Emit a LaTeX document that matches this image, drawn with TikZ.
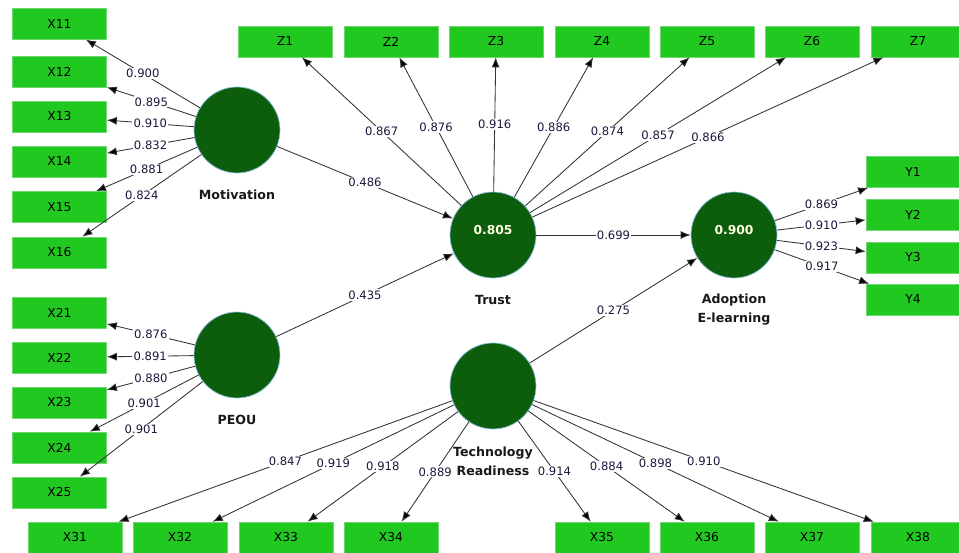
\documentclass[tikz,border=0pt]{standalone}
\usepackage{fontspec}
\setmainfont{DejaVu Sans}
\usetikzlibrary{arrows.meta}

\definecolor{itemgreen}{RGB}{32,200,32}
\definecolor{itemedge}{RGB}{110,215,110}
\definecolor{lvgreen}{RGB}{12,94,12}
\definecolor{lvedge}{RGB}{140,190,225}
\definecolor{linkgray}{RGB}{50,50,50}
\definecolor{numink}{RGB}{30,25,60}

\tikzset{
  item/.style = {rectangle, fill=itemgreen, draw=itemedge, line width=0.6pt,
    minimum width=94pt, minimum height=31pt, inner sep=0pt,
    font=\fontsize{12.3}{14}\selectfont},
  latent/.style = {circle, fill=lvgreen, draw=lvedge, line width=0.7pt,
    minimum size=86pt, inner sep=0pt},
  lvvalue/.style = {inner sep=0pt, text=white!88!yellow, yshift=5pt,
    font=\bfseries\fontsize{12.3}{14}\selectfont},
  lvname/.style = {align=center, inner sep=0pt, text=black!90,
    font=\bfseries\fontsize{12.6}{19}\selectfont},
  loading/.style = {fill=white, inner sep=1.2pt, text=numink,
    font=\fontsize{11.6}{13}\selectfont},
  link/.style = {->, draw=linkgray, line width=0.85pt}
}

\begin{document}
\begin{tikzpicture}[x=1pt, y=-1pt, >={Latex[length=10pt, width=8pt, fill=black]}]
	 \useasboundingbox (0, 0) rectangle (959, 552);
	 
	 % latent variables
	 \node[latent] (mot) at (237, 130) {};
	 \node[latent] (peou) at (237, 355) {};
	 \node[latent, label={[lvvalue]center:0.805}] (trust) at (493, 235) {};
	 \node[latent, label={[lvvalue]center:0.900}] (adopt) at (734, 235) {};
	 \node[latent] (tech) at (493, 386) {};
	 
	 \node[lvname] (motname) at (237, 195) {Motivation};
	 \node[lvname] (peouname) at (237, 420) {PEOU};
	 \node[lvname] (trustname) at (493, 300) {Trust};
	 \node[lvname] (adoptname) at (734, 310) {Adoption\\E-learning};
	 \node[lvname] (techname) at (493, 461) {Technology\\Readiness};
	 
	 % indicators
	 \foreach \n/\y in {11/23.8, 12/71.7, 13/116.5, 14/161.5, 15/207, 16/252.5}
	 \node[item] (x\n) at (59.5, \y) {X\n};
	 \foreach \n/\y in {21/312.5, 22/357.5, 23/402.5, 24/447.5, 25/492.5}
	 \node[item] (x\n) at (59.5, \y) {X\n};
	 \foreach \n/\x in {1/285, 2/391, 3/496, 4/602, 5/707, 6/812, 7/918}
	 \node[item] (z\n) at (\x, 41.5) {Z\n};
	 \foreach \n/\y in {1/172, 2/214.5, 3/257.5, 4/299.5}
	 \node[item] (y\n) at (913, \y) {Y\n};
	 \foreach \n/\x in {31/75, 32/180, 33/286, 34/391, 35/602, 36/707, 37/812, 38/918}
	 \node[item] (x\n) at (\x, 537.5) {X\n};
	 
	 % outer loadings
	 \foreach \n/\v in {11/0.900, 12/0.895, 13/0.910, 14/0.832, 15/0.881, 16/0.824}
	 \draw[link] (mot) -- node[loading] {\v} (x\n);
	 \foreach \n/\v in {21/0.876, 22/0.891, 23/0.880, 24/0.901, 25/0.901}
	 \draw[link] (peou) -- node[loading] {\v} (x\n);
	 \foreach \n/\v in {1/0.867, 2/0.876, 3/0.916, 4/0.886, 5/0.874, 6/0.857, 7/0.866}
	 \draw[link] (trust) -- node[loading] {\v} (z\n);
	 \foreach \n/\v in {1/0.869, 2/0.910, 3/0.923, 4/0.917}
	 \draw[link] (adopt) -- node[loading] {\v} (y\n);
	 \foreach \n/\v in {31/0.847, 32/0.919, 33/0.918, 34/0.889, 35/0.914, 36/0.884, 37/0.898, 38/0.910}
	 \draw[link] (tech) -- node[loading] {\v} (x\n);
	 
	 % path coefficients
	 \draw[link] (mot) -- node[loading] {0.486} (trust);
	 \draw[link] (peou) -- node[loading] {0.435} (trust);
	 \draw[link] (trust) -- node[loading] {0.699} (adopt);
	 \draw[link] (tech) -- node[loading] {0.275} (adopt);
\end{tikzpicture}
\end{document}
